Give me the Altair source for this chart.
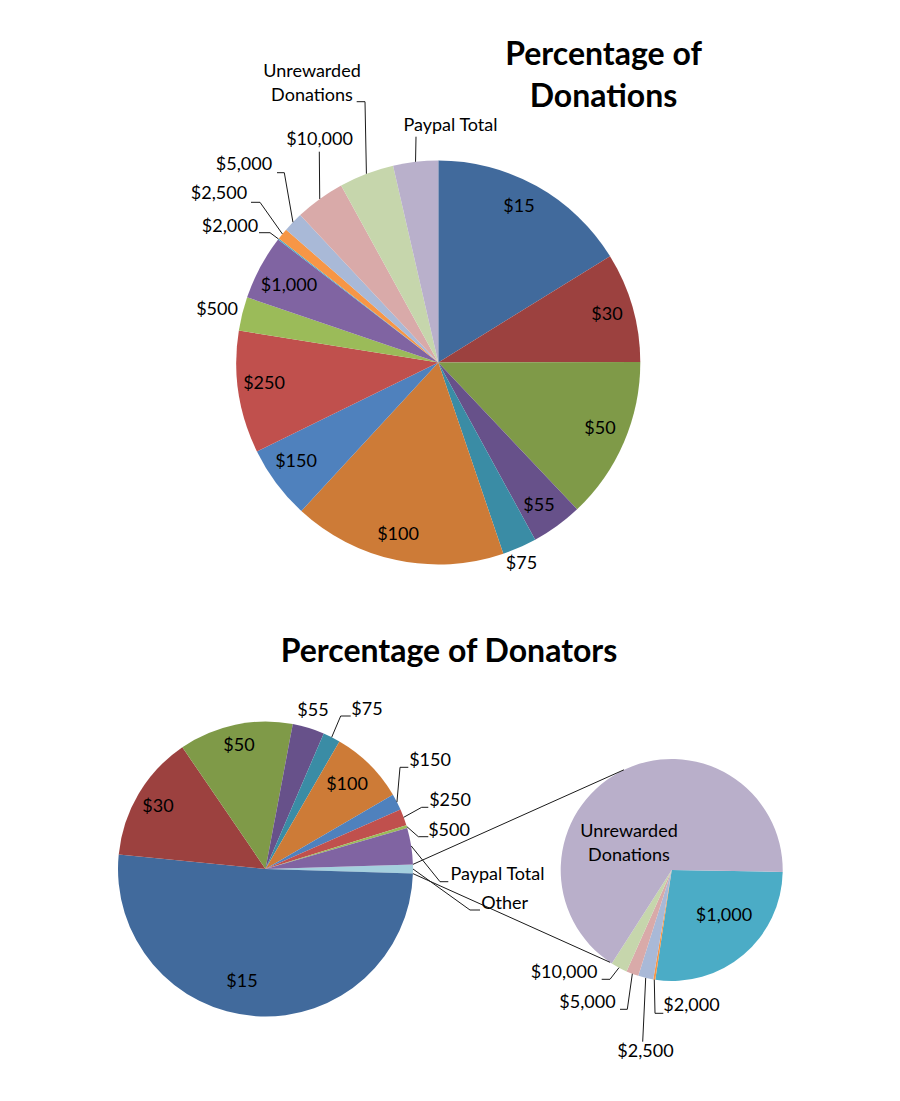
import math
import altair as alt
import pandas as pd

# ---------------- data ----------------
# Top pie: percentage of donations (by reward level)
don_labels = ["$15", "$30", "$50", "$55", "$75", "$100", "$150", "$250", "$500",
              "$1,000", "$2,000", "$2,500", "$5,000", "$10,000",
              "Unrewarded\nDonations", "Paypal Total"]
don_values = [16.2, 8.8, 13.0, 4.1, 2.75, 17.1, 5.9, 9.8, 2.7,
               5.2, 0.1, 0.9, 1.6, 4.0, 4.4, 3.6]
don_colors = ["#416A9C", "#9C413F", "#7F9A48", "#67518A", "#3A8CA5", "#CD7B37", "#4F81BD", "#C0504D", "#9BBB59",
              "#8064A2", "#4BACC6", "#F79646", "#A9B9D7", "#D9AAA9", "#C6D6AC", "#B9B0CB"]

# Bottom pie-of-pie: percentage of donators
dtr_sec_labels = ["$1,000", "$2,000", "$2,500", "$5,000", "$10,000", "Unrewarded\nDonations"]
dtr_sec_values = [0.27, 0.003, 0.022, 0.018, 0.024, 0.66]
dtr_sec_colors = ["#4BACC6", "#F79646", "#A9B9D7", "#D9AAA9", "#C6D6AC", "#B9AFCA"]

dtr_main_labels = ["Other", "$15", "$30", "$50", "$55", "$75", "$100", "$150", "$250", "$500", "Paypal Total"]
dtr_main_values = [sum(dtr_sec_values), 51.1, 13.9, 12.5, 3.5, 1.9, 8.25, 1.8, 1.8, 0.3, 4.0]
dtr_main_colors = ["#A5D0DE", "#416A9C", "#9C413F", "#7F9A48", "#67518A", "#3A8CA5", "#CD7B37", "#4F81BD",
                   "#C0504D", "#9BBB59", "#8064A2"]

# ---------------- layout (page pixels) ----------------
TOP = dict(cx=438.3, cy=362.5, r=202, start=0.0)
MAIN = dict(cx=265.5, cy=869, r=147.5)
SEC = dict(cx=671.7, cy=870, r=111, start=91.0)
MAIN["start"] = 90.0 - 180.0 * dtr_main_values[0] / sum(dtr_main_values)

# (x, y) of each label: centre of text, first line for two-line labels
label_pos_top = {
    "$15": (519, 207), "$30": (607, 315), "$50": (600, 429), "$55": (539, 506), "$75": (521.5, 564),
    "$100": (398, 535), "$150": (296, 462), "$250": (264, 384), "$500": (217, 310), "$1,000": (289, 286),
    "$2,000": (230, 227), "$2,500": (219, 194), "$5,000": (244, 165), "$10,000": (319.5, 140),
    "Unrewarded\nDonations": (312, 72), "Paypal Total": (450.5, 126),
}
label_pos_main = {
    "$15": (242, 982), "$30": (158, 807), "$50": (239, 746), "$55": (313, 711), "$75": (367, 710),
    "$100": (347, 785), "$150": (430, 761), "$250": (450, 801), "$500": (449, 831),
    "Paypal Total": (497.5, 875), "Other": (504.7, 904),
}
label_pos_sec = {
    "Unrewarded\nDonations": (629, 832), "$1,000": (724, 916), "$10,000": (564, 973),
    "$5,000": (587.5, 1003), "$2,500": (645.5, 1052), "$2,000": (691.5, 1006),
}
# leader lines: label-side points; the slice-side end is derived from slice geometry
leaders_top = {
    "$2,000": [(259, 232.7), (270, 232.7)], "$2,500": [(251, 202.3), (260, 202.3)],
    "$5,000": [(277, 172.7), (284.3, 172.7)], "$10,000": [(319.3, 151.7)],
    "Unrewarded\nDonations": [(356.7, 101.7), (365, 101.7)], "Paypal Total": [(416, 136.7)],
}
leaders_main = {
    "$75": [(350.7, 716), (340.7, 716)], "$150": [(408.3, 767.3), (400, 767.3)],
    "$250": [(428.3, 807.3), (421.7, 807.3)], "$500": [(428.3, 836.7), (418.3, 836.7)],
    "Paypal Total": [(448.3, 881.7), (440, 881.7)], "Other": [(480, 910), (470, 910)],
}
leaders_sec = {
    "$10,000": [(601.7, 979.3), (610, 979.3)], "$5,000": [(620, 1009.3), (627.3, 1009.3)],
    "$2,500": [(642.7, 1041.7)], "$2,000": [(663.3, 1013.3), (655, 1013.3)],
}
SEC_CONNECT_ANGLES = (334.5, 213.7)  # where the pie-of-pie connectors meet the secondary pie

W, H = 884, 1085
XS = alt.Scale(domain=[8, 8 + W], nice=False, zero=False)
YS = alt.Scale(domain=[8, 8 + H], nice=False, zero=False, reverse=True)
FONT = "Lato"


def pie_frame(labels, values, colors, geo):
    total = sum(values)
    rows, acc = [], 0.0
    for i, (l, v, c) in enumerate(zip(labels, values, colors)):
        a0 = geo["start"] + 360.0 * acc / total
        acc += v
        a1 = geo["start"] + 360.0 * acc / total
        rows.append(dict(label=l, value=v, color=c, idx=i, cx=geo["cx"], cy=geo["cy"],
                         a0=a0, a1=a1, mid=(a0 + a1) / 2))
    return pd.DataFrame(rows)


def edge_point(geo, deg):
    a = math.radians(deg)
    return geo["cx"] + geo["r"] * math.sin(a), geo["cy"] - geo["r"] * math.cos(a)


def arc_layer(df, geo):
    s = math.radians(geo["start"])
    return alt.Chart(df).mark_arc(outerRadius=geo["r"]).encode(
        x=alt.X("cx:Q", scale=XS, axis=None),
        y=alt.Y("cy:Q", scale=YS, axis=None),
        theta=alt.Theta("value:Q", stack=True, scale=alt.Scale(range=[s, s + 2 * math.pi])),
        order=alt.Order("idx:Q"),
        color=alt.Color("color:N", scale=None),
    )


def label_rows(pos):
    return [dict(text=k, x=v[0], y=v[1]) for k, v in pos.items()]


def leader_rows(df, geo, leaders, prefix):
    rows = []
    mids = dict(zip(df["label"], df["mid"]))
    for name, pts in leaders.items():
        allpts = list(pts) + [edge_point(geo, mids[name])]
        for j, (x, y) in enumerate(allpts):
            rows.append(dict(lid=prefix + name, k=j, x=x, y=y))
    return rows


top_df = pie_frame(don_labels, don_values, don_colors, TOP)
main_df = pie_frame(dtr_main_labels, dtr_main_values, dtr_main_colors, MAIN)
sec_df = pie_frame(dtr_sec_labels, dtr_sec_values, dtr_sec_colors, SEC)

labels_df = pd.DataFrame(label_rows(label_pos_top) + label_rows(label_pos_main) + label_rows(label_pos_sec))
lead_df = pd.DataFrame(leader_rows(top_df, TOP, leaders_top, "t") +
                       leader_rows(main_df, MAIN, leaders_main, "m") +
                       leader_rows(sec_df, SEC, leaders_sec, "s"))

other = main_df.iloc[0]
conn = []
for a_main, a_sec in ((other["a0"], SEC_CONNECT_ANGLES[0]), (other["a1"], SEC_CONNECT_ANGLES[1])):
    p1 = edge_point(MAIN, a_main)
    p2 = edge_point(SEC, a_sec)
    conn.append(dict(x1=p1[0], y1=p1[1], x2=p2[0], y2=p2[1]))
conn_df = pd.DataFrame(conn)

titles_df = pd.DataFrame([
    dict(text="Percentage of\nDonations", x=603.5, y=55),
    dict(text="Percentage of Donators", x=449, y=652),
])

arcs_top = arc_layer(top_df, TOP)
arcs_main = arc_layer(main_df, MAIN)
arcs_sec = arc_layer(sec_df, SEC)

leader_lines = alt.Chart(lead_df).mark_line(color="#1a1a1a", strokeWidth=1).encode(
    x=alt.X("x:Q", scale=XS, axis=None),
    y=alt.Y("y:Q", scale=YS, axis=None),
    detail="lid:N",
    order="k:Q",
)
connectors = alt.Chart(conn_df).mark_rule(color="#1a1a1a", strokeWidth=1).encode(
    x=alt.X("x1:Q", scale=XS, axis=None), y=alt.Y("y1:Q", scale=YS, axis=None),
    x2="x2:Q", y2="y2:Q",
)
labels = alt.Chart(labels_df).mark_text(font=FONT, fontSize=18, color="#000000", lineBreak="\n",
                                        lineHeight=24, align="center", baseline="middle").encode(
    x=alt.X("x:Q", scale=XS, axis=None),
    y=alt.Y("y:Q", scale=YS, axis=None),
    text="text:N",
)
titles = alt.Chart(titles_df).mark_text(font=FONT, fontSize=32, fontWeight="bold", color="#000000",
                                        lineBreak="\n", lineHeight=42, align="center", baseline="middle").encode(
    x=alt.X("x:Q", scale=XS, axis=None),
    y=alt.Y("y:Q", scale=YS, axis=None),
    text="text:N",
)

chart = alt.layer(
    arcs_top, arcs_main, arcs_sec, connectors, leader_lines, labels, titles
).resolve_scale(theta="independent").properties(
    width=W, height=H, padding=0, autosize=alt.AutoSizeParams(type="none"),
    background="#ffffff",
).configure_view(strokeWidth=0)

chart.save("out.html", embed_options={"renderer": "svg", "actions": False})
